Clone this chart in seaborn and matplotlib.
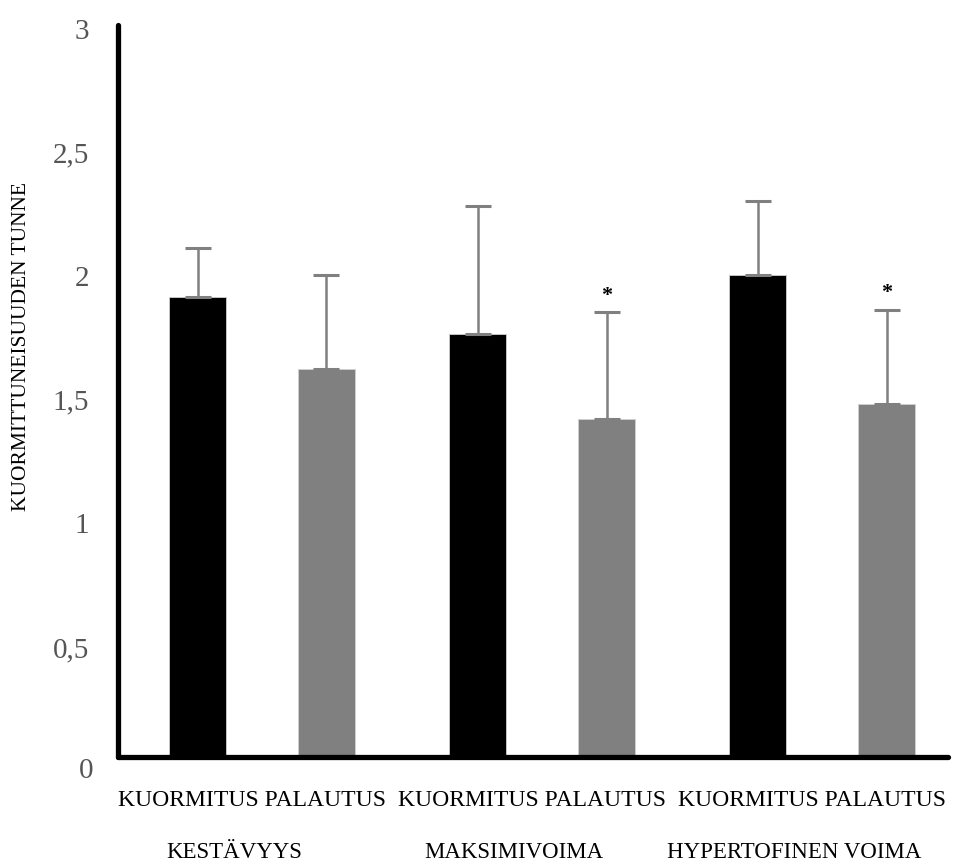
import matplotlib
matplotlib.use("Agg")
import matplotlib.pyplot as plt
import matplotlib.transforms as mtransforms
import seaborn as sns
import pandas as pd

# ---- data ----
harjoitukset = ["KESTÄVYYS", "MAKSIMIVOIMA", "HYPERTOFINEN VOIMA"]
tilat = ["KUORMITUS", "PALAUTUS"]
kuormitus = [1.91, 1.76, 2.00]
palautus = [1.62, 1.42, 1.48]
kuormitus_sd = [0.20, 0.52, 0.30]
palautus_sd = [0.38, 0.43, 0.38]
palautus_merkitsevyys = ["", "*", "*"]
y_ticks = [0.5, 1.0, 1.5, 2.0, 2.5, 3.0]
y_tick_labels = ["0,5", "1", "1,5", "2", "2,5", "3"]

df = pd.DataFrame({
    "harjoitus": harjoitukset * 2,
    "tila": [tilat[0]] * 3 + [tilat[1]] * 3,
    "arvo": kuormitus + palautus,
})

sns.set_style("white")
plt.rcParams["font.family"] = ["Liberation Serif", "DejaVu Serif"]

fig = plt.figure(figsize=(9.54, 8.62), dpi=100)
ax = fig.add_axes([0.1237, 0.1206, 0.8703, 0.8492])

sns.barplot(data=df, x="harjoitus", y="arvo", hue="tila", order=harjoitukset,
            hue_order=tilat, palette={"KUORMITUS": "#000000", "PALAUTUS": "#808080"},
            width=0.92, gap=0.555, errorbar=None, legend=False, ax=ax,
            edgecolor="#d0d0d0", linewidth=0.6)

# error bars (upward only) and significance stars, positioned from the bars
patches = sorted(ax.patches, key=lambda p: p.get_x())
vals = []
errs = []
stars = []
for i in range(3):
    vals += [kuormitus[i], palautus[i]]
    errs += [kuormitus_sd[i], palautus_sd[i]]
    stars += ["", palautus_merkitsevyys[i]]
centers = [p.get_x() + p.get_width() / 2 for p in patches]
ax.errorbar(centers, vals, yerr=[[0] * 6, errs], fmt="none", ecolor="#808080",
            elinewidth=1.8, capsize=9.5, capthick=2.2, zorder=3)
for cx, v, e, s in zip(centers, vals, errs, stars):
    if s:
        ax.text(cx, v + e + 0.03, s, ha="center", va="bottom", fontsize=16,
                fontweight="bold", color="black")

ax.set_ylim(0.052, 3.01)
ax.set_xlim(-0.514, 2.45)
ax.set_yticks(y_ticks)
ax.set_yticklabels(y_tick_labels, fontsize=21, color="#555555")
ax.text(-0.03, 0.0, "0", transform=mtransforms.blended_transform_factory(ax.transAxes, ax.transData),
        ha="right", va="center", fontsize=21, color="#555555", clip_on=False)
ax.tick_params(axis="y", direction="in", length=6, width=1, color="#555555", pad=21)
ax.tick_params(axis="x", length=0)
ax.set_xticks([])
ax.set_xlabel("")
ax.set_ylabel("")

for side in ["top", "right"]:
    ax.spines[side].set_visible(False)
for side in ["left", "bottom"]:
    ax.spines[side].set_linewidth(3.8)
    ax.spines[side].set_color("black")
    ax.spines[side].set_capstyle("round")

# category labels under each group
trans = mtransforms.blended_transform_factory(ax.transData, fig.transFigure)
for gi, g in enumerate(harjoitukset):
    gx = (centers[2 * gi] + centers[2 * gi + 1]) / 2
    ax.text(gx - 0.035, 1 - 801 / 862, " ".join(tilat), transform=trans,
            ha="center", va="center", fontsize=17, color="black")
    ax.text(gx - 0.1, 1 - 853 / 862, g, transform=trans, ha="center", va="center",
            fontsize=16.5, color="black")

fig.text(22 / 954, 1 - 347 / 862, "KUORMITTUNEISUUDEN TUNNE", rotation=90,
         ha="center", va="center", fontsize=15.5, color="black")

fig.savefig("out.png", dpi=100)
